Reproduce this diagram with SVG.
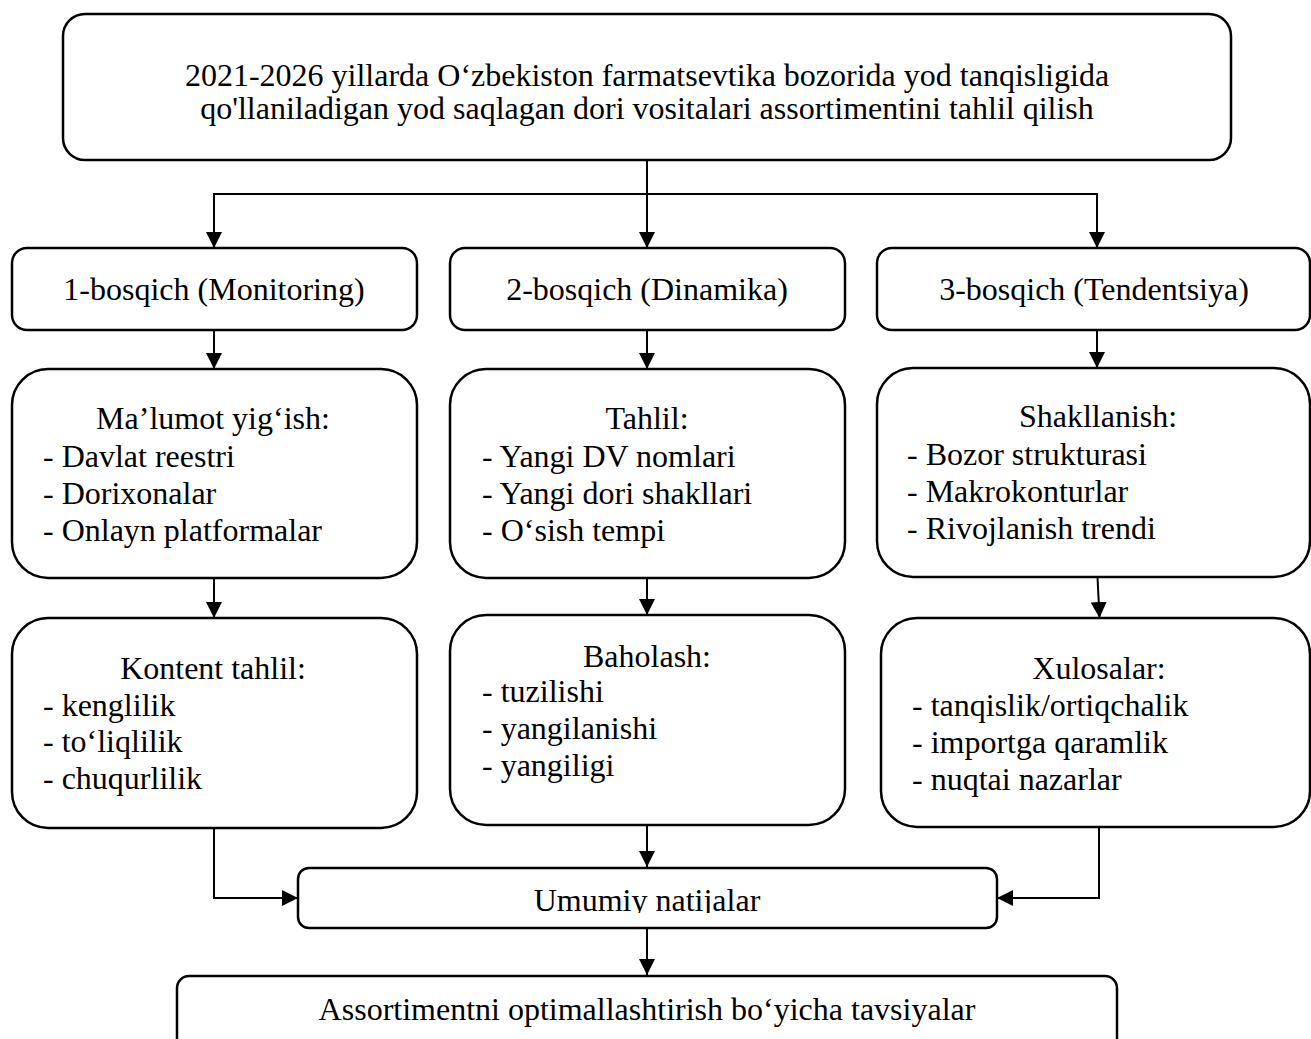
<svg xmlns="http://www.w3.org/2000/svg" width="1311" height="1039" viewBox="0 0 1311 1039">
<style>
.box{fill:#fff;stroke:#000;stroke-width:2.5}
.t{font-family:"Liberation Serif","Times New Roman",serif;font-size:32px;fill:#000}
.c{text-anchor:middle}
.ln{fill:none;stroke:#000;stroke-width:2}
</style>
<defs>
<marker id="ah" markerUnits="userSpaceOnUse" markerWidth="16" markerHeight="16" viewBox="0 0 16 16" refX="16" refY="8" orient="auto">
<path d="M0,0 L16,8 L0,16 Z" fill="#000"/>
</marker>
<clipPath id="clipU"><rect x="298" y="868" width="699" height="45"/></clipPath>
</defs>
<rect width="1311" height="1039" fill="#fff"/>
<g id="connectors">
<path class="ln" d="M647,160 V248" marker-end="url(#ah)"/>
<path class="ln" d="M214,248 V194 H1097 V248" marker-end="url(#ah)"/>
<path class="ln" d="M214,194 V248" marker-end="url(#ah)"/>
<path class="ln" d="M214,330 V369" marker-end="url(#ah)"/>
<path class="ln" d="M647,330 V369" marker-end="url(#ah)"/>
<path class="ln" d="M1097,330 V368" marker-end="url(#ah)"/>
<path class="ln" d="M214,578 V618" marker-end="url(#ah)"/>
<path class="ln" d="M647,578 V615" marker-end="url(#ah)"/>
<path class="ln" d="M1097.5,577 L1099.5,618" marker-end="url(#ah)"/>
<path class="ln" d="M214,828 V898 H298" marker-end="url(#ah)"/>
<path class="ln" d="M647,825 V867" marker-end="url(#ah)"/>
<path class="ln" d="M1099,827 V898 H997" marker-end="url(#ah)"/>
<path class="ln" d="M647,928 V975" marker-end="url(#ah)"/>
</g>
<g id="n-top">
<rect class="box" x="63" y="14" width="1168" height="146" rx="22"/>
<text class="t c" x="647" y="86">2021-2026 yillarda O‘zbekiston farmatsevtika bozorida yod tanqisligida</text>
<text class="t c" x="647" y="119">qo'llaniladigan yod saqlagan dori vositalari assortimentini tahlil qilish</text>
</g>
<g id="n-stage1">
<rect class="box" x="12" y="248" width="405" height="82" rx="15"/>
<text class="t c" x="214" y="300">1-bosqich (Monitoring)</text>
</g>
<g id="n-stage2">
<rect class="box" x="450" y="248" width="395" height="82" rx="15"/>
<text class="t c" x="647" y="300">2-bosqich (Dinamika)</text>
</g>
<g id="n-stage3">
<rect class="box" x="877" y="248" width="433" height="82" rx="15"/>
<text class="t c" x="1094" y="300">3-bosqich (Tendentsiya)</text>
</g>
<g id="n-malumot">
<rect class="box" x="12" y="369" width="405" height="209" rx="36"/>
<text class="t c" x="213" y="429">Ma’lumot yig‘ish:</text>
<text class="t" x="43" y="466.5">- Davlat reestri</text>
<text class="t" x="43" y="503.5">- Dorixonalar</text>
<text class="t" x="43" y="540.5">- Onlayn platformalar</text>
</g>
<g id="n-tahlil">
<rect class="box" x="450" y="369" width="395" height="209" rx="36"/>
<text class="t c" x="647" y="429">Tahlil:</text>
<text class="t" x="482" y="466.5">- Yangi DV nomlari</text>
<text class="t" x="482" y="503.5">- Yangi dori shakllari</text>
<text class="t" x="482" y="540.5">- O‘sish tempi</text>
</g>
<g id="n-shakl">
<rect class="box" x="877" y="368" width="433" height="209" rx="36"/>
<text class="t c" x="1098" y="427">Shakllanish:</text>
<text class="t" x="907" y="465">- Bozor strukturasi</text>
<text class="t" x="907" y="502">- Makrokonturlar</text>
<text class="t" x="907" y="539">- Rivojlanish trendi</text>
</g>
<g id="n-kontent">
<rect class="box" x="12" y="618" width="405" height="210" rx="36"/>
<text class="t c" x="213" y="679">Kontent tahlil:</text>
<text class="t" x="43" y="715.5">- kenglilik</text>
<text class="t" x="43" y="752">- to‘liqlilik</text>
<text class="t" x="43" y="789">- chuqurlilik</text>
</g>
<g id="n-baholash">
<rect class="box" x="450" y="615" width="395" height="210" rx="36"/>
<text class="t c" x="647" y="667">Baholash:</text>
<text class="t" x="482" y="702">- tuzilishi</text>
<text class="t" x="482" y="739">- yangilanishi</text>
<text class="t" x="482" y="775.5">- yangiligi</text>
</g>
<g id="n-xulosa">
<rect class="box" x="881" y="618" width="429" height="209" rx="36"/>
<text class="t c" x="1099" y="678.5">Xulosalar:</text>
<text class="t" x="912" y="716">- tanqislik/ortiqchalik</text>
<text class="t" x="912" y="752.5">- importga qaramlik</text>
<text class="t" x="912" y="789.5">- nuqtai nazarlar</text>
</g>
<g id="n-umumiy">
<rect class="box" x="298" y="868" width="699" height="60" rx="11"/>
<text class="t c" x="647" y="911" clip-path="url(#clipU)">Umumiy natijalar</text>
</g>
<g id="n-tavsiya">
<rect class="box" x="177" y="976" width="940" height="90" rx="12"/>
<text class="t c" x="647" y="1020">Assortimentni optimallashtirish bo‘yicha tavsiyalar</text>
</g>
</svg>
